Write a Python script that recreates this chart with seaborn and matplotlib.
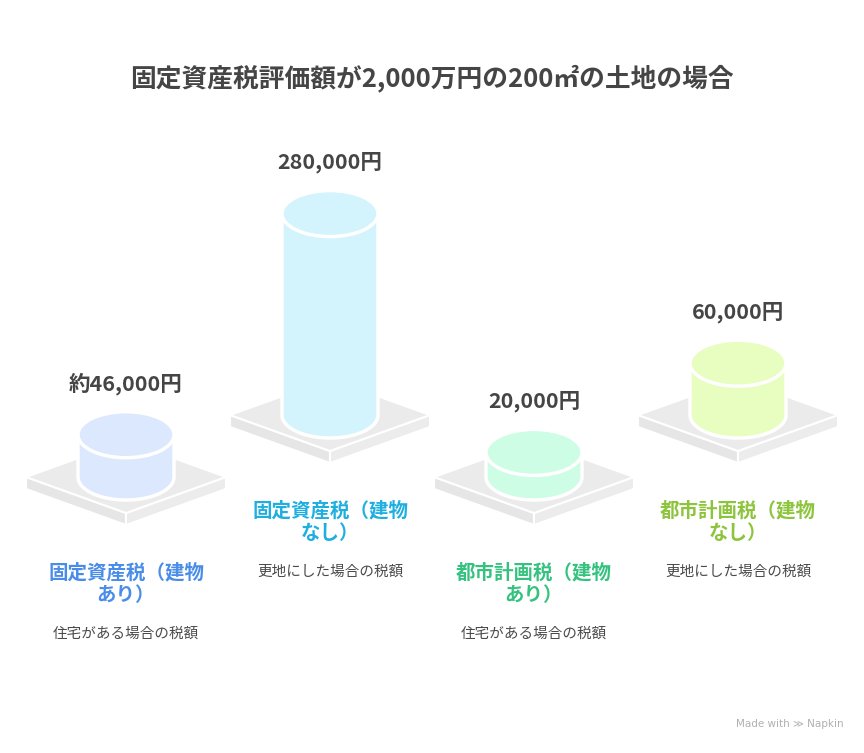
import numpy as np
import matplotlib
matplotlib.use("Agg")
import matplotlib.pyplot as plt
from matplotlib.patches import Polygon, Ellipse
import seaborn as sns

# ---- data ----
title = "固定資産税評価額が2,000万円の200㎡の土地の場合"
categories = ["固定資産税（建物\nあり）", "固定資産税（建物\nなし）",
              "都市計画税（建物\nあり）", "都市計画税（建物\nなし）"]
subtitles = ["住宅がある場合の税額", "更地にした場合の税額",
             "住宅がある場合の税額", "更地にした場合の税額"]
values = [46000, 280000, 20000, 60000]
value_labels = ["約46,000円", "280,000円", "20,000円", "60,000円"]

# ---- styling / layout ----
fill_colors = ["#dce8fd", "#d3f3fd", "#cdfde5", "#e8fdc0"]
label_colors = ["#4a8de8", "#1eaee0", "#35c27f", "#8cc43c"]
x_centers = [126, 330, 534, 738]
base_y = [477, 415, 477, 415]

sns.set_theme(style="white")
plt.rcParams["font.family"] = ["Noto Sans CJK JP", "DejaVu Sans"]

fig = plt.figure(figsize=(8.64, 7.53), dpi=100)
ax = fig.add_axes([0, 0, 1, 1])
ax.set_xlim(0, 864)
ax.set_ylim(753, 0)
ax.axis("off")


def height_scale(v):
    return 11 + v * 0.00068


RX, RY = 48, 23
W, D, T = 100, 36, 12

for i, v in enumerate(values):
    cx, by = x_centers[i], base_y[i]
    # platform
    top = [(cx - W, by), (cx, by - D), (cx + W, by), (cx, by + D)]
    left = [(cx - W, by), (cx, by + D), (cx, by + D + T), (cx - W, by + T)]
    right = [(cx, by + D), (cx + W, by), (cx + W, by + T), (cx, by + D + T)]
    ax.add_patch(Polygon(left, closed=True, fc="#e6e6e6", ec="white", lw=1.5, zorder=1))
    ax.add_patch(Polygon(right, closed=True, fc="#ececec", ec="white", lw=1.5, zorder=1))
    ax.add_patch(Polygon(top, closed=True, fc="#ebebeb", ec="white", lw=1.5, zorder=1))

    # cylinder
    h = height_scale(v)
    ty = by - h
    t = np.linspace(np.pi, 0, 60)
    front = np.column_stack([cx + RX * np.cos(t), by + RY * np.sin(t)])
    t2 = np.linspace(0, np.pi, 60)
    back = np.column_stack([cx + RX * np.cos(t2), ty - RY * np.sin(t2)])
    pts = np.vstack([[cx - RX, ty], [cx - RX, by], front, [cx + RX, by], [cx + RX, ty], back])
    ax.add_patch(Polygon(pts, closed=True, fc=fill_colors[i], ec="white", lw=2.5, zorder=2))
    ax.add_patch(Ellipse((cx, ty), 2 * RX, 2 * RY, fc=fill_colors[i], ec="white", lw=2.5, zorder=3))

    # value label
    ax.text(cx, ty - RY - 28, value_labels[i], ha="center", va="center",
            fontsize=15.5, fontweight="bold", color="#454545", zorder=4)

    # category label
    for j, line in enumerate(categories[i].split("\n")):
        ax.text(cx, by + 96 + 22.5 * j, line, ha="center", va="center",
                fontsize=14, fontweight="bold", color=label_colors[i], zorder=4)
    ax.text(cx, by + 157, subtitles[i], ha="center", va="center",
            fontsize=10.5, color="#4a4a4a", zorder=4)

ax.text(432, 78, title, ha="center", va="center", fontsize=18.5,
        fontweight="bold", color="#454545")
ax.text(790, 724, "Made with ≫ Napkin", ha="center", va="center",
        fontsize=7.5, color="#b0b0b0", family=["DejaVu Sans"])

fig.savefig("out.png", dpi=100, facecolor="white")
